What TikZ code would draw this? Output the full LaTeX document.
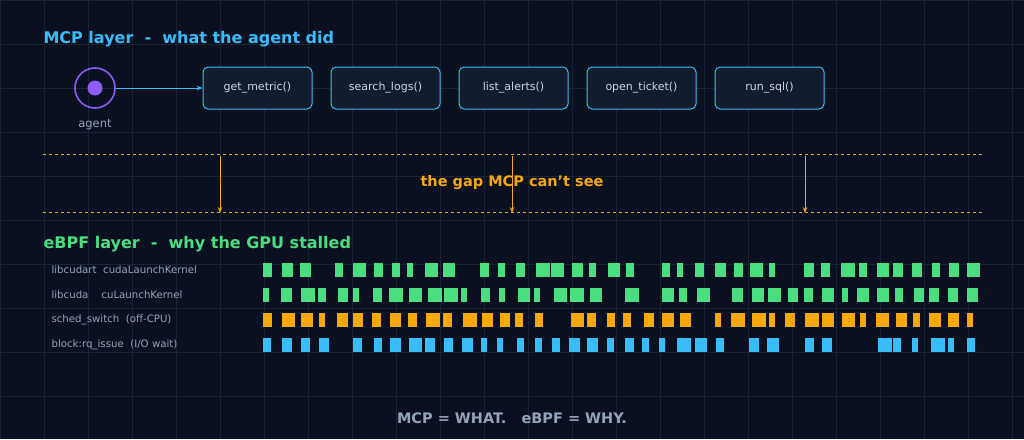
\documentclass[tikz,border=0pt]{standalone}
\usepackage{fontspec}
\setmainfont{DejaVu Sans}
\usetikzlibrary{positioning,arrows.meta}
\definecolor{bgdark}{HTML}{0B1020}
\definecolor{gridline}{HTML}{1A2236}
\definecolor{mcpblue}{HTML}{38BDF8}
\definecolor{ebpfgreen}{HTML}{4ADE80}
\definecolor{gaporange}{HTML}{F5A80B}
\definecolor{agentpurple}{HTML}{8B5CF6}
\definecolor{boxfill}{HTML}{131C2E}
\definecolor{softtext}{HTML}{CBD5E1}
\definecolor{mutedtext}{HTML}{94A3B8}

\begin{document}
\begin{tikzpicture}[
    x=1pt, y=-1pt,
    >={Stealth[length=6pt]},
    font=\fontsize{11}{13}\selectfont,
    tool/.style={
		rectangle,
		rounded corners=5pt,
		draw=mcpblue,
		line width=1pt,
		fill=boxfill,
		text=softtext,
		minimum width=109pt,
		minimum height=42pt
	},
	heading/.style={
		anchor=west,
		font=\fontsize{16}{18}\selectfont\bfseries
	},
	rowname/.style={
		anchor=west,
		text=mutedtext,
		font=\fontsize{10.2}{12}\selectfont
	},
	gapline/.style={
		draw=gaporange,
		dashed,
		line width=0.7pt
	}
  ]
    % background and grid
  \fill [bgdark] (0,0) rectangle (1024,439);
  \useasboundingbox (0,0) rectangle (1024,439);
  \foreach \gx in {0,44,...,1024} \draw [gridline, line width=0.6pt] (\gx,0) -- (\gx,439);
  \foreach \gy in {0,44,...,439} \draw [gridline, line width=0.6pt] (0,\gy) -- (1024,\gy);

    % MCP layer
  \node [heading, text=mcpblue] (mcptitle) at (40,39) {MCP layer\ \ -\ \ what the agent did};
  \node [circle, draw=agentpurple, line width=1.6pt, minimum size=40pt] (agent) at (95,88) {};
  \fill [agentpurple] (agent.center) circle (7.5pt);
  \node [text=mutedtext, font=\fontsize{11.5}{13}\selectfont] (agentlabel) at (95,125) {agent};

  \node [tool] (getmetric) at (257.5,88) {get\_metric()};
  \node [tool, right=18pt of getmetric] (searchlogs) {search\_logs()};
  \node [tool, right=18pt of searchlogs] (listalerts) {list\_alerts()};
  \node [tool, right=18pt of listalerts] (openticket) {open\_ticket()};
  \node [tool, right=18pt of openticket] (runsql) {run\_sql()};

  \draw [mcpblue, line width=1pt, ->] (agent) -- (getmetric);

    % the gap
  \coordinate (gaptopL) at (43,154);
  \coordinate (gaptopR) at (983,154);
  \coordinate (gapbotL) at (43,212);
  \coordinate (gapbotR) at (983,212);
  \draw [gapline] (gaptopL) -- (gaptopR);
  \draw [gapline] (gapbotL) -- (gapbotR);
  \foreach \ax in {220,512,805} {
    \coordinate (drop\ax) at (\ax,156);
    \coordinate (land\ax) at (\ax,213);
    \draw [gaporange, line width=1pt, ->] (drop\ax) -- (land\ax);
  }
  \node [text=gaporange, font=\fontsize{14.5}{16}\selectfont\bfseries] (gaptext) at (512,183) {the gap MCP can't see};

    % eBPF layer
  \node [heading, text=ebpfgreen] (ebpftitle) at (40,244) {eBPF layer\ \ -\ \ why the GPU stalled};
  \node [rowname] (row1) at (48,270) {libcudart\ \ cudaLaunchKernel};
  \node [rowname] (row2) at (48,295) {libcuda\ \ \ \ cuLaunchKernel};
  \node [rowname] (row3) at (48,320) {sched\_switch\ \ (off-CPU)};
  \node [rowname] (row4) at (48,345) {block:rq\_issue\ \ (I/O wait)};

  \pgfmathsetseed{17}
  \foreach \ry/\rc in {270/ebpfgreen,295/ebpfgreen,320/gaporange,345/mcpblue} {
    \foreach \k in {0,...,39} {
      \pgfmathsetmacro\bw{6+int(random(0,8))}
      \pgfmathsetmacro\bx{263+\k*18+int(random(0,3))}
      \pgfmathsetmacro\keep{(\k==0 || \k==39) ? 9 : random(0,9)}
      \ifnum\k=0 \def\bx{263}\fi
      \ifnum\k=39 \def\bx{967}\fi
      \ifdim\keep pt>0.5pt
        \fill [\rc] (\bx,\ry-7) rectangle ({min(\bx+\bw,980)},\ry+7);
      \fi
    }
  }

    % footer
  \node [text=mutedtext, font=\fontsize{14.5}{16}\selectfont\bfseries] (footer) at (512,418) {MCP = WHAT.\ \ \ eBPF = WHY.};
\end{tikzpicture}
\end{document}
